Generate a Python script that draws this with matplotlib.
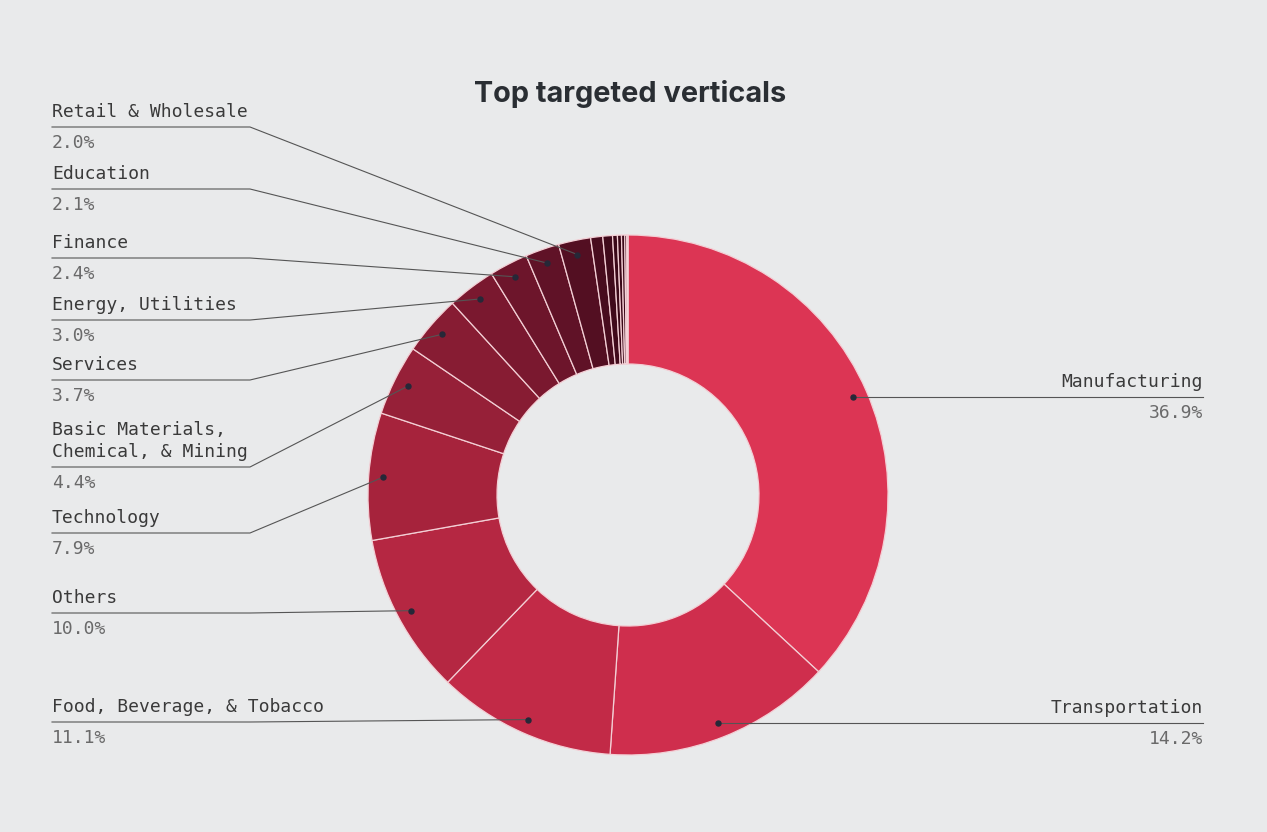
import matplotlib.pyplot as plt
import numpy as np

# data
categories = ["Manufacturing", "Transportation", "Food, Beverage, & Tobacco", "Others",
              "Technology", "Basic Materials,\nChemical, & Mining", "Services",
              "Energy, Utilities", "Finance", "Education", "Retail & Wholesale",
              "", "", "", "", "", "", ""]
shares = [36.9, 14.2, 11.1, 10.0, 7.9, 4.4, 3.7, 3.0, 2.4, 2.1, 2.0,
          0.75, 0.6, 0.3, 0.25, 0.2, 0.12, 0.08]
colors = ["#DC3554", "#CF2E4D", "#C22A47", "#B52742", "#A6233C", "#962038",
          "#871C33", "#7A182F", "#6D152B", "#601227", "#530F22",
          "#480C1E", "#400A1B", "#3A0818", "#3A0818", "#3A0818", "#3A0818", "#3A0818"]
# which side each label sits on, and the y (px from top) of its underline for left ones
sides = ["right", "right", "left", "left", "left", "left", "left", "left", "left", "left", "left"]
left_underline_y = {2: 722, 3: 613, 4: 533, 5: 467, 6: 380, 7: 320, 8: 258, 9: 189, 10: 127}

W, H = 1267, 832
BG = "#E9EAEB"
cx, cy, R = 628, 495, 260

fig = plt.figure(figsize=(W / 100, H / 100), dpi=100, facecolor=BG)
ax = fig.add_axes([0, 0, 1, 1])
ax.set_facecolor(BG)

wedges, _ = ax.pie(shares, colors=colors, startangle=90, counterclock=False,
                   center=(cx, H - cy), radius=R,
                   wedgeprops=dict(width=129, edgecolor="#F3CFD5", linewidth=0.9))
ax.set_xlim(0, W)
ax.set_ylim(0, H)
ax.set_aspect("equal")
ax.axis("off")

mono = "DejaVu Sans Mono"
name_col = "#3a3a3a"
pct_col = "#6a6a6a"
line_col = "#555555"

for i, side in enumerate(sides):
    w = wedges[i]
    ang = np.deg2rad((w.theta1 + w.theta2) / 2)
    dx = cx + 0.945 * R * np.cos(ang)
    dy = (H - cy) + 0.945 * R * np.sin(ang)
    ax.plot(dx, dy, "o", color="#262838", ms=3.6, zorder=5)
    pct = f"{shares[i]:.1f}%"
    if side == "right":
        ax.plot([dx, 1203], [dy, dy], color=line_col, lw=0.8)
        ax.text(1203, dy + 6, categories[i], ha="right", va="bottom",
                family=mono, fontsize=13, color=name_col)
        ax.text(1203, dy - 7, pct, ha="right", va="top",
                family=mono, fontsize=13, color=pct_col)
    else:
        uy = H - left_underline_y[i]
        ax.plot([52, 250, dx], [uy, uy, dy], color=line_col, lw=0.8)
        ax.text(52, uy + 6, categories[i], ha="left", va="bottom",
                family=mono, fontsize=13, color=name_col, linespacing=1.3)
        ax.text(52, uy - 7, pct, ha="left", va="top",
                family=mono, fontsize=13, color=pct_col)

fig.text(630 / W, 1 - 94 / H, "Top targeted verticals", ha="center", va="center",
         family="Inter", fontweight="bold", fontsize=20.8, color="#2a2e33")

fig.savefig("out.png", dpi=100, facecolor=BG)
